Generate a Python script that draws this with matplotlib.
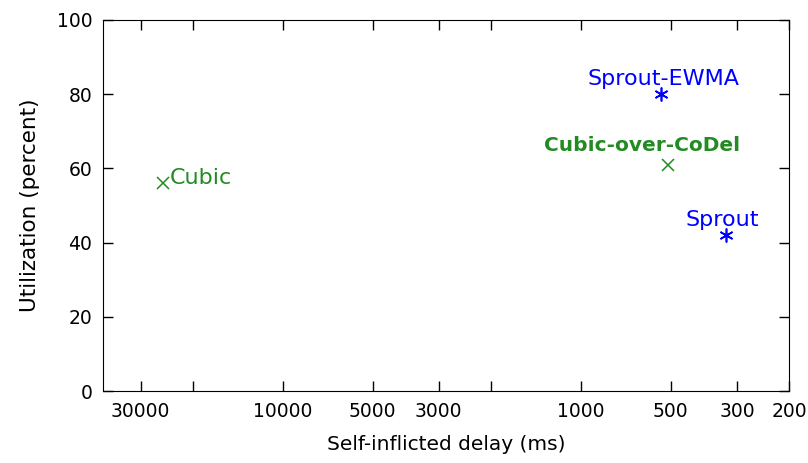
import matplotlib
matplotlib.use("Agg")
import matplotlib.pyplot as plt
from matplotlib.ticker import FixedLocator, NullLocator

# === Data ===
names = ["Cubic", "Cubic-over-CoDel", "Sprout-EWMA", "Sprout"]
delay_ms = [25300, 511, 540, 326]
util_pct = [56, 61, 80, 42]
kind = ["cubic", "cubic", "sprout", "sprout"]

xticks = [30000, 20000, 10000, 5000, 3000, 2000, 1000, 500, 300, 200]
xticklabels = ["30000", "", "10000", "5000", "3000", "", "1000", "500", "300", "200"]
yticks = [0, 20, 40, 60, 80, 100]

GREEN = "#228b22"
BLUE = "#0000ff"

plt.rcParams['font.family'] = ['DejaVu Sans']

fig, ax = plt.subplots(figsize=(8.08, 4.63), dpi=100)
fig.subplots_adjust(left=0.128, right=0.977, top=0.957, bottom=0.155)

for name, x, y, k in zip(names, delay_ms, util_pct, kind):
    if k == "cubic":
        ax.plot(x, y, marker="x", color=GREEN, markersize=9, mew=1.1, linestyle="none")
    else:
        ax.plot(x, y, marker=(6, 2, 0), color=BLUE, markersize=10, mew=1.2, linestyle="none")

# labels
ax.annotate("Cubic", (delay_ms[0], util_pct[0]), xytext=(5, 4), textcoords="offset points",
            color=GREEN, fontsize=16, ha="left", va="center")
ax.annotate("Cubic-over-CoDel", (delay_ms[1], util_pct[1]), xytext=(-19, 7), textcoords="offset points",
            color=GREEN, fontsize=14.5, fontweight="bold", ha="center", va="bottom")
ax.annotate("Sprout-EWMA", (delay_ms[2], util_pct[2]), xytext=(2, 4), textcoords="offset points",
            color=BLUE, fontsize=16, ha="center", va="bottom")
ax.annotate("Sprout", (delay_ms[3], util_pct[3]), xytext=(-3, 4), textcoords="offset points",
            color=BLUE, fontsize=16, ha="center", va="bottom")

ax.set_xscale("log")
ax.set_xlim(40000, 200)
ax.set_ylim(0, 100)
ax.xaxis.set_major_locator(FixedLocator(xticks))
ax.xaxis.set_minor_locator(NullLocator())
ax.set_xticklabels(xticklabels)
ax.set_yticks(yticks)

ax.tick_params(direction="in", top=True, right=True, length=7, width=1, labelsize=13.5, pad=8)
ax.set_xlabel("Self-inflicted delay (ms)", fontsize=14.5, labelpad=10)
ax.set_ylabel("Utilization (percent)", fontsize=15.5, labelpad=12)

fig.savefig("out.png", dpi=100)
